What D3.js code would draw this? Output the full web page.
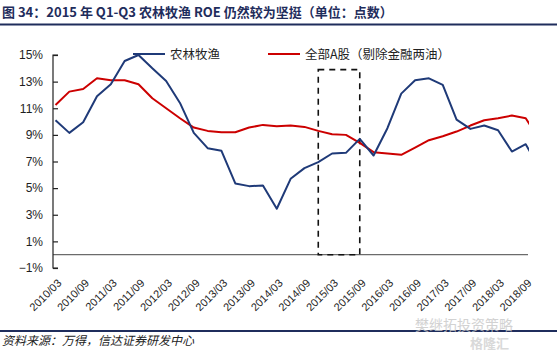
<!DOCTYPE html>
<html>
<head>
<meta charset="utf-8">
<script src="https://cdn.jsdelivr.net/npm/d3@7"></script>
<style>
  body { margin: 0; background: #fff; }
  svg { display: block; }
</style>
</head>
<body>
<svg width="560" height="351"></svg>
<script>
"use strict";

// quarterly categories 2010/03 .. 2018/12 (the last one is cut by the plot edge)
const quarters = [];
for (let yr = 2010; yr <= 2018; yr++) {
  ["03", "06", "09", "12"].forEach((m) => quarters.push(`${yr}/${m}`));
}

// ROE (%)
const agriRoe = [
  10.1, 9.15, 9.95, 11.9, 12.8, 14.55, 15.0, 14.0, 13.05, 11.4,
  9.15, 8.0, 7.8, 5.35, 5.15, 5.2, 3.45, 5.7, 6.5, 6.95,
  7.6, 7.65, 8.7, 7.45, 9.5, 12.1, 13.1, 13.25, 12.75, 10.15,
  9.45, 9.7, 9.35, 7.75, 8.3, 6.45
];
const allARoe = [
  11.25, 12.25, 12.45, 13.25, 13.1, 13.1, 12.8, 11.75, 11.0, 10.25,
  9.55, 9.3, 9.2, 9.2, 9.55, 9.75, 9.65, 9.7, 9.6, 9.3,
  9.05, 9.0, 8.4, 7.7, 7.6, 7.5, 8.05, 8.6, 8.9, 9.25,
  9.7, 10.1, 10.25, 10.45, 10.25, 8.6
];
const seriesNames = ["农林牧渔", "全部A股（剔除金融两油）"];
const seriesColors = ["#1f3a78", "#cc0000"];
const yTicks = [-1, 1, 3, 5, 7, 9, 11, 13, 15];
// every second quarter gets a label
const xLabels = quarters.filter((d, i) => i % 2 === 0 && i < 35);
// highlighted window: 2015 Q1-Q3
const boxFrom = "2014/12";
const boxTo = "2015/09";
const boxTop = 13.9;

const titleText = "图 34：2015 年 Q1-Q3 农林牧渔 ROE 仍然较为坚挺（单位：点数）";
const sourceText = "资料来源：万得，信达证券研发中心";

const svg = d3.select("svg");
const navy = "#1f2d5c";
const cjk = "'Noto Sans CJK SC', 'Noto Sans', sans-serif";

// plot area
const plotL = 53, plotR = 529, plotT = 55, plotB = 268;

const x = d3.scalePoint().domain(quarters).range([55.5, 55.5 + 13.83 * 35]);
const y = d3.scaleLinear().domain([-1, 15]).range([plotB, plotT]);

svg.append("defs").append("clipPath").attr("id", "plot")
  .append("rect").attr("x", plotL).attr("y", 0)
  .attr("width", plotR - plotL).attr("height", plotB);

// title + rule
svg.append("text")
  .attr("x", 2).attr("y", 17)
  .style("font-family", cjk).style("font-size", "13px").style("font-weight", "bold")
  .attr("fill", navy)
  .text(titleText);
svg.append("line")
  .attr("x1", 0).attr("x2", 557).attr("y1", 24.5).attr("y2", 24.5)
  .attr("stroke", navy).attr("stroke-width", 2);

// zero line
svg.append("line")
  .attr("x1", plotL).attr("x2", plotR - 1)
  .attr("y1", y(0)).attr("y2", y(0))
  .attr("stroke", "#6b6b6b").attr("stroke-width", 1.3);

// y axis (ticks pointing into the plot)
const yAxis = svg.append("g")
  .attr("transform", `translate(${plotL},0)`)
  .call(d3.axisRight(y).tickValues(yTicks).tickSize(5).tickFormat(""));
yAxis.select(".domain").attr("d", `M5,${plotT}H0V${plotB}H5`).attr("stroke", "#222").attr("stroke-width", 1.2);
yAxis.selectAll(".tick line").attr("stroke", "#222").attr("stroke-width", 1.2);

svg.append("g").selectAll("text")
  .data(yTicks)
  .join("text")
  .attr("x", plotL - 10)
  .attr("y", (d) => y(d))
  .attr("dy", "0.36em")
  .attr("text-anchor", "end")
  .style("font-family", "'Liberation Sans', Arial, sans-serif")
  .style("font-size", "12px")
  .attr("fill", "#1e1e1e")
  .text((d) => (d < 0 ? "−" + Math.abs(d) : d) + "%");

// x labels, rotated
svg.append("g").selectAll("text")
  .data(xLabels)
  .join("text")
  .attr("transform", (d) => `translate(${x(d) + 4},${281}) rotate(-45)`)
  .attr("text-anchor", "end")
  .attr("dy", "0.35em")
  .style("font-family", "'Liberation Sans', Arial, sans-serif")
  .style("font-size", "11px")
  .attr("fill", "#1e1e1e")
  .text((d) => d);

// dashed box for 2015 Q1-Q3
svg.append("rect")
  .attr("x", x(boxFrom)).attr("y", y(boxTop))
  .attr("width", x(boxTo) - x(boxFrom))
  .attr("height", y(0) - y(boxTop))
  .attr("fill", "none")
  .attr("stroke", "#111")
  .attr("stroke-width", 1.6)
  .attr("stroke-dasharray", "6,5");

// lines
const line = d3.line()
  .x((d, i) => x(quarters[i]))
  .y((d) => y(d));

const plotG = svg.append("g").attr("clip-path", "url(#plot)");
[allARoe, agriRoe].forEach((vals, k) => {
  plotG.append("path")
    .datum(vals)
    .attr("d", line)
    .attr("fill", "none")
    .attr("stroke", seriesColors[1 - k])
    .attr("stroke-width", 2)
    .attr("stroke-linejoin", "round");
});

// legend
const legendPos = [[133, 54], [268, 54]];
seriesNames.forEach((name, i) => {
  const [lx, ly] = legendPos[i];
  svg.append("line")
    .attr("x1", lx).attr("x2", lx + 32).attr("y1", ly).attr("y2", ly)
    .attr("stroke", seriesColors[i]).attr("stroke-width", 2);
  svg.append("text")
    .attr("x", lx + 37).attr("y", ly).attr("dy", "0.36em")
    .style("font-family", cjk).style("font-size", "12.5px")
    .attr("fill", "#222")
    .text(name);
});

// footer rule + source
svg.append("line")
  .attr("x1", 0).attr("x2", 557).attr("y1", 331).attr("y2", 331)
  .attr("stroke", navy).attr("stroke-width", 2);
svg.append("text")
  .attr("x", 2).attr("y", 345)
  .style("font-family", cjk).style("font-size", "12px").style("font-style", "italic")
  .attr("fill", "#222")
  .text(sourceText);

// faint watermark
svg.append("text")
  .attr("x", 415).attr("y", 330)
  .style("font-family", cjk).style("font-size", "14px")
  .attr("fill", "#c8c8c8").attr("opacity", 0.8)
  .text("樊继拓投资策略");
svg.append("text")
  .attr("x", 470).attr("y", 348)
  .style("font-family", cjk).style("font-size", "13px").style("font-weight", "bold")
  .attr("fill", "#d0d0d0").attr("opacity", 0.8)
  .text("格隆汇");
</script>
</body>
</html>
